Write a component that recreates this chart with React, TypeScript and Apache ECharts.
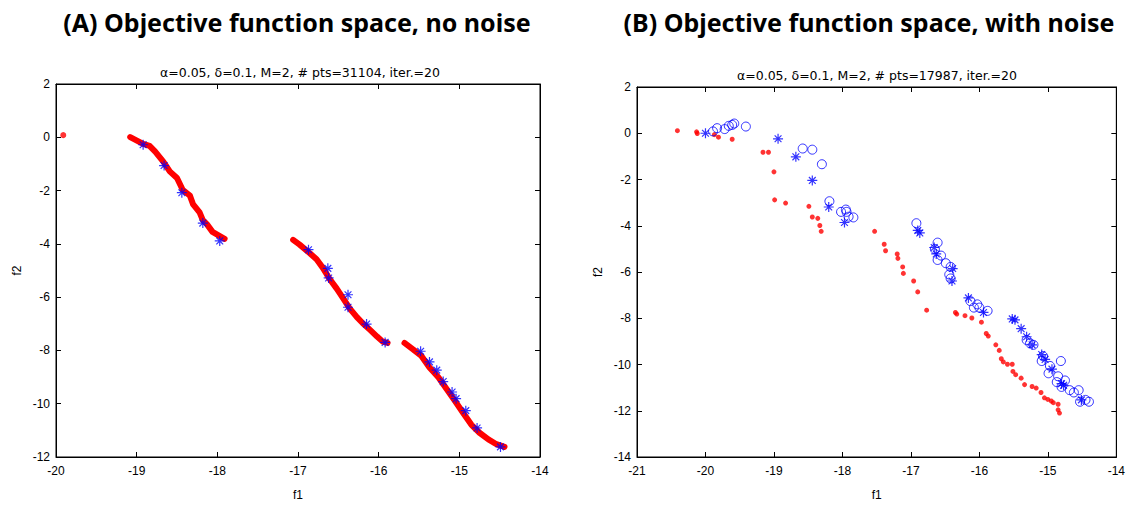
import React, { useEffect, useRef } from "react";
import * as echarts from "echarts";

// ---------- Data ----------
const leftXTicks = [-20, -14];
const leftYTicks = [-12, 2];
const rightXTicks = [-21, -14];
const rightYTicks = [-14, 2];

const titleA = "(A) Objective function space, no noise";
const titleB = "(B) Objective function space, with noise";
const subA = "\u03b1=0.05, \u03b4=0.1, M=2, # pts=31104, iter.=20";
const subB = "\u03b1=0.05, \u03b4=0.1, M=2, # pts=17987, iter.=20";

const leftRedSeg1 = [
  [-19.08, 0.01], [-18.92, -0.25], [-18.84, -0.32], [-18.77, -0.54], [-18.67, -0.91],
  [-18.59, -1.28], [-18.5, -1.53], [-18.43, -1.97], [-18.34, -2.19], [-18.3, -2.52],
  [-18.22, -2.82], [-18.18, -3.11], [-18.13, -3.26], [-18.06, -3.55], [-17.91, -3.81],
];
const leftRedSeg2 = [
  [-17.06, -3.85], [-16.98, -4.03], [-16.85, -4.36], [-16.77, -4.58], [-16.69, -4.91],
  [-16.61, -5.31], [-16.52, -5.68], [-16.44, -6.05], [-16.36, -6.42], [-16.27, -6.75],
  [-16.2, -6.97], [-16.11, -7.22], [-16.02, -7.48], [-15.95, -7.67], [-15.89, -7.72],
];
const leftRedSeg3 = [
  [-15.68, -7.72], [-15.57, -7.97], [-15.47, -8.21], [-15.37, -8.64], [-15.26, -9.01],
  [-15.16, -9.44], [-15.06, -9.87], [-14.95, -10.36], [-14.85, -10.79], [-14.75, -11.09],
  [-14.64, -11.34], [-14.54, -11.52], [-14.44, -11.62],
];
const leftRedIsolated = [[-19.91, 0.08]];
const leftBlueStars = [
  [-18.92, -0.28], [-18.66, -1.06], [-18.44, -2.08], [-18.18, -3.22], [-17.97, -3.89],
  [-16.87, -4.22], [-16.63, -4.92], [-16.62, -5.28], [-16.38, -5.91], [-16.38, -6.38],
  [-16.15, -7.01], [-15.92, -7.7],
  [-15.48, -8.03], [-15.37, -8.43], [-15.28, -8.74], [-15.2, -9.17], [-15.09, -9.56],
  [-15.04, -9.81], [-14.92, -10.26], [-14.78, -10.91], [-14.49, -11.62],
];

const rightRed = [
  [-20.41, 0.11], [-20.13, 0.06], [-20.12, -0.01], [-19.87, -0.06], [-19.81, -0.17],
  [-19.61, -0.26], [-19.16, -0.82], [-19.08, -0.82], [-19.0, -1.67], [-18.99, -2.88],
  [-18.83, -3.02], [-18.49, -3.16], [-18.44, -3.62], [-18.36, -3.68], [-18.33, -3.99],
  [-18.31, -4.24], [-17.53, -4.24], [-17.39, -4.8], [-17.37, -5.08], [-17.2, -5.22],
  [-17.19, -5.41], [-17.12, -5.78], [-17.11, -6.06], [-16.96, -6.39], [-16.9, -6.86],
  [-16.77, -7.65], [-16.35, -7.75], [-16.33, -7.82], [-16.21, -7.89], [-16.11, -7.99],
  [-15.97, -8.17], [-15.9, -8.66], [-15.87, -8.77], [-15.76, -9.15], [-15.71, -9.39],
  [-15.68, -9.75], [-15.65, -9.89], [-15.59, -9.99], [-15.52, -9.99], [-15.51, -10.3],
  [-15.47, -10.44], [-15.39, -10.59], [-15.34, -10.87], [-15.23, -10.95], [-15.17, -11.02],
  [-15.1, -11.21], [-15.05, -11.44], [-15.0, -11.51], [-14.95, -11.58], [-14.92, -11.65],
  [-14.85, -11.72], [-14.85, -11.96], [-14.83, -12.1],
];
const rightBlueStars = [
  [-20.0, 0.0], [-18.94, -0.24], [-18.68, -1.02], [-18.44, -2.04], [-18.2, -3.19],
  [-17.97, -3.86], [-16.9, -4.2], [-16.87, -4.31], [-16.66, -4.94], [-16.63, -5.22],
  [-16.39, -5.85], [-16.4, -6.39], [-16.16, -7.12], [-15.94, -7.75], [-15.52, -8.03],
  [-15.48, -8.07], [-15.39, -8.45], [-15.31, -8.8], [-15.23, -9.15], [-15.09, -9.57],
  [-15.04, -9.78], [-14.94, -10.2], [-14.8, -10.83], [-14.77, -10.9], [-14.51, -11.53],
];
const rightBlueCircles = [
  [-19.89, 0.08], [-19.83, 0.22], [-19.72, 0.18], [-19.66, 0.32], [-19.61, 0.36],
  [-19.58, 0.42], [-19.41, 0.29], [-18.58, -0.66], [-18.44, -0.71], [-18.3, -1.34],
  [-18.19, -2.94], [-18.02, -3.4], [-17.95, -3.3], [-17.94, -3.4], [-17.91, -3.61],
  [-17.84, -3.64], [-16.92, -3.89], [-16.61, -4.73], [-16.65, -5.01], [-16.56, -5.29],
  [-16.61, -5.48], [-16.49, -5.62], [-16.42, -5.78], [-16.44, -6.11], [-16.42, -6.28],
  [-16.13, -7.26], [-16.08, -7.54], [-16.03, -7.4], [-16.0, -7.54], [-15.88, -7.68],
  [-15.31, -8.94], [-15.26, -9.08], [-15.21, -9.15], [-15.07, -9.64], [-15.09, -9.85],
  [-14.97, -10.06], [-14.99, -10.38], [-14.81, -9.85], [-14.85, -10.51], [-14.87, -10.76],
  [-14.8, -10.97], [-14.75, -10.69], [-14.68, -11.11], [-14.62, -11.21], [-14.55, -11.11],
  [-14.53, -11.61], [-14.45, -11.53], [-14.4, -11.61],
];

const STAR = "path://M5,0L5,10M0,5L10,5M1.6,1.6L8.4,8.4M1.6,8.4L8.4,1.6";
const RED = "#ff0000";
const BLUE = "#0000ff";
const FONT = "'Liberation Sans', Arial, sans-serif";
const TITLE_FONT = "'Noto Sans', 'Open Sans', sans-serif";

function xAxes(gridIndex: number, ticks: number[]) {
  const base = {
    gridIndex,
    type: "value" as const,
    min: ticks[0],
    max: ticks[1],
    interval: 1,
    splitLine: { show: false },
    axisLine: { show: true, onZero: false, lineStyle: { color: "#000", width: 1 } },
    axisTick: { show: true, inside: true, length: 5, lineStyle: { color: "#000" } },
  };
  return [
    {
      ...base,
      position: "bottom",
      name: "f1",
      nameLocation: "middle",
      nameGap: 32,
      nameTextStyle: { color: "#000", fontSize: 12, fontFamily: FONT },
      axisLabel: { color: "#000", fontSize: 12, fontFamily: FONT, margin: 8 },
    },
    { ...base, position: "top", axisLabel: { show: false } },
  ];
}

function yAxes(gridIndex: number, ticks: number[]) {
  const base = {
    gridIndex,
    type: "value" as const,
    min: ticks[0],
    max: ticks[1],
    interval: 2,
    splitLine: { show: false },
    axisLine: { show: true, onZero: false, lineStyle: { color: "#000", width: 1 } },
    axisTick: { show: true, inside: true, length: 5, lineStyle: { color: "#000" } },
  };
  return [
    {
      ...base,
      position: "left",
      name: "f2",
      nameLocation: "middle",
      nameGap: 33,
      nameRotate: 90,
      nameTextStyle: { color: "#000", fontSize: 12, fontFamily: FONT },
      axisLabel: { color: "#000", fontSize: 12, fontFamily: FONT, margin: 6 },
    },
    { ...base, position: "right", axisLabel: { show: false } },
  ];
}

export default function App() {
  const ref = useRef<HTMLDivElement>(null);
  useEffect(() => {
    if (!ref.current) return;
    const chart = echarts.init(ref.current, undefined, { renderer: "svg" });
    const lineSeg = (data: number[][]) => ({
      type: "line",
      xAxisIndex: 0,
      yAxisIndex: 0,
      data,
      showSymbol: false,
      symbol: "none",
      silent: true,
      lineStyle: { color: RED, width: 6, cap: "round", join: "round" },
      z: 2,
    });
    const titleStyle = { fontSize: 25, fontWeight: "bold", fontFamily: TITLE_FONT, color: "#000" };
    const subStyle = { fontSize: 12.5, fontWeight: "normal", fontFamily: "'DejaVu Sans', sans-serif", color: "#000" };
    chart.setOption({
      animation: false,
      backgroundColor: "#ffffff",
      grid: [
        { left: 56, top: 84, width: 484, height: 381, show: true, borderColor: "#000", borderWidth: 1, backgroundColor: "transparent" },
        { left: 637, top: 87, width: 483, height: 380, show: true, borderColor: "#000", borderWidth: 1, backgroundColor: "transparent" },
      ],
      xAxis: [...xAxes(0, leftXTicks), ...xAxes(1, rightXTicks)],
      yAxis: [...yAxes(0, leftYTicks), ...yAxes(1, rightYTicks)],
      title: [
        { text: titleA, left: 292, top: 4, textAlign: "center", textStyle: titleStyle },
        { text: titleB, left: 864, top: 4, textAlign: "center", textStyle: titleStyle },
        { text: subA, left: 295, top: 61, textAlign: "center", textStyle: subStyle },
        { text: subB, left: 872, top: 64, textAlign: "center", textStyle: subStyle },
      ],
      series: [
        lineSeg(leftRedSeg1),
        lineSeg(leftRedSeg2),
        lineSeg(leftRedSeg3),
        {
          type: "scatter", xAxisIndex: 0, yAxisIndex: 0, data: leftRedIsolated,
          symbol: "circle", symbolSize: 6, itemStyle: { color: RED }, silent: true, z: 2,
        },
        {
          type: "scatter", xAxisIndex: 0, yAxisIndex: 0, data: leftBlueStars,
          symbol: STAR, symbolSize: 10, silent: true, z: 3,
          itemStyle: { color: "rgba(0,0,0,0)", borderColor: BLUE, borderWidth: 1.2 },
        },
        {
          type: "scatter", xAxisIndex: 2, yAxisIndex: 2, data: rightRed,
          symbol: "circle", symbolSize: 5, itemStyle: { color: RED }, silent: true, z: 2,
        },
        {
          type: "scatter", xAxisIndex: 2, yAxisIndex: 2, data: rightBlueStars,
          symbol: STAR, symbolSize: 10, silent: true, z: 3,
          itemStyle: { color: "rgba(0,0,0,0)", borderColor: BLUE, borderWidth: 1.2 },
        },
        {
          type: "scatter", xAxisIndex: 2, yAxisIndex: 2, data: rightBlueCircles,
          symbol: "circle", symbolSize: 9, silent: true, z: 3,
          itemStyle: { color: "rgba(0,0,0,0)", borderColor: BLUE, borderWidth: 1 },
        },
      ],
    });
    return () => chart.dispose();
  }, []);
  return (
    <div
      ref={ref}
      style={{ position: "absolute", left: 0, top: 0, width: 1128, height: 506, background: "#fff" }}
    />
  );
}
